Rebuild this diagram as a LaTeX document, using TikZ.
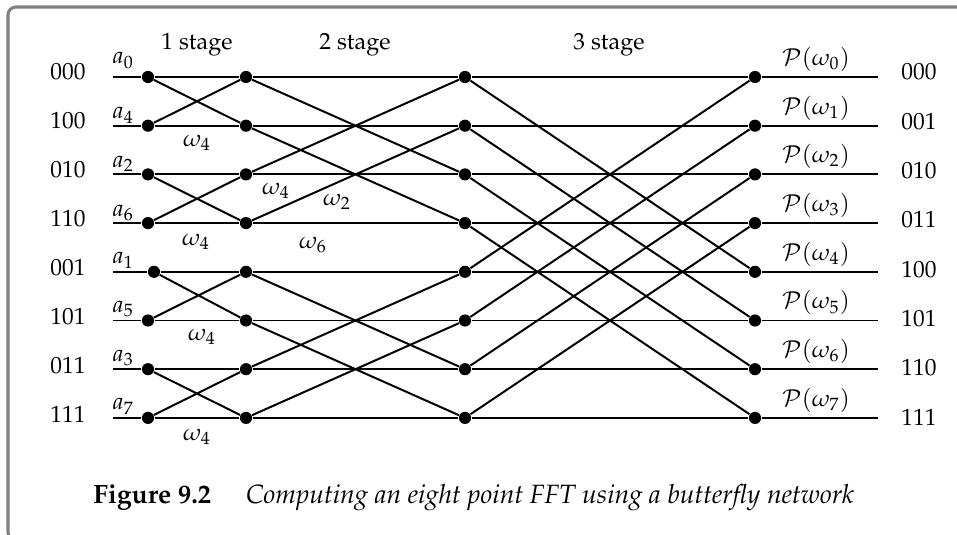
\documentclass[tikz,border=0pt]{standalone}
\usepackage[T1]{fontenc}
\usepackage{mathpazo}
\usepackage{tikz}
\usetikzlibrary{positioning}

\begin{document}
\begin{tikzpicture}[
    x=0.015cm, y=-0.015cm,
    wire/.style={line width=0.85pt},
    dot/.style={circle, fill, inner sep=0pt, minimum size=5.2pt},
    lbl/.style={inner sep=0pt, font=\fontsize{10}{12}\selectfont},
    capt/.style={inner sep=0pt, anchor=base west, font=\fontsize{11.3}{14}\selectfont},
    frame/.style={draw=gray, line width=1.3pt, rounded corners=3.4pt}
]
\useasboundingbox (0,0) rectangle (957,535);
\clip (0,0) rectangle (957,535);
\draw[frame] (8,7) rectangle (1000,540);

\foreach \c/\x in {0/148,1/246,2/465,3/755}
  \foreach \r in {0,...,7} {
    \pgfmathsetmacro\xx{\x+6*(\c==0)*(\r==4)}
    \node[dot] (d\c-\r) at (\xx, 77+48.7*\r) {};
  }

\foreach \r in {0,...,7} {
  \coordinate (s\r) at (113, 77+48.7*\r);
  \coordinate (e\r) at (878, 77+48.7*\r);
  \draw[wire] (s\r) -- (d0-\r) -- (d1-\r) -- (d2-\r) -- (d3-\r) -- (e\r);
}

\foreach \a/\b in {0/1,2/3,4/5,6/7}
  \draw[wire] (d0-\a) -- (d1-\b) (d0-\b) -- (d1-\a);
\foreach \a/\b in {0/2,1/3,4/6,5/7}
  \draw[wire] (d1-\a) -- (d2-\b) (d1-\b) -- (d2-\a);
\foreach \a/\b in {0/4,1/5,2/6,3/7}
  \draw[wire] (d2-\a) -- (d3-\b) (d2-\b) -- (d3-\a);

\foreach \r/\bl/\br/\ai/\dy in {0/000/000/0/13, 1/100/001/4/7, 2/010/010/2/7, 3/110/011/6/7,
    4/001/100/1/8, 5/101/101/5/8, 6/011/110/3/8, 7/111/111/7/8} {
  \node[lbl, anchor=base west] (lb\r) at (50, 80+49*\r) {\bl};
  \node[lbl, anchor=base east] (rb\r) at (937, 80+49.3*\r) {\br};
  \node[lbl, anchor=base west] (a\r) at (112, 77+48.7*\r-\dy) {$a_{\ai}$};
  \node[lbl, anchor=south] (p\r) at (816, 72+48.7*\r) {$\mathcal{P}(\omega_{\r})$};
}

\node[lbl, anchor=base] (st1) at (197,50) {1 stage};
\node[lbl, anchor=base] (st2) at (355,50) {2 stage};
\node[lbl, anchor=base] (st3) at (609,50) {3 stage};

\node[lbl] (w1) at (197,143) {$\omega_4$};
\node[lbl] (w2) at (276,191) {$\omega_4$};
\node[lbl] (w3) at (337,202) {$\omega_2$};
\node[lbl] (w4) at (196,242) {$\omega_4$};
\node[lbl] (w5) at (313,245) {$\omega_6$};
\node[lbl] (w6) at (202,337) {$\omega_4$};
\node[lbl] (w7) at (197,437) {$\omega_4$};

\node[capt, font=\fontsize{11.3}{14}\selectfont\bfseries] (fig) at (93,503) {Figure 9.2};
\node[capt, font=\fontsize{11.3}{14}\selectfont\itshape] (cap) at ([xshift=14.5pt]fig.base east)
  {Computing an eight point FFT using a butterfly network};
\end{tikzpicture}
\end{document}
